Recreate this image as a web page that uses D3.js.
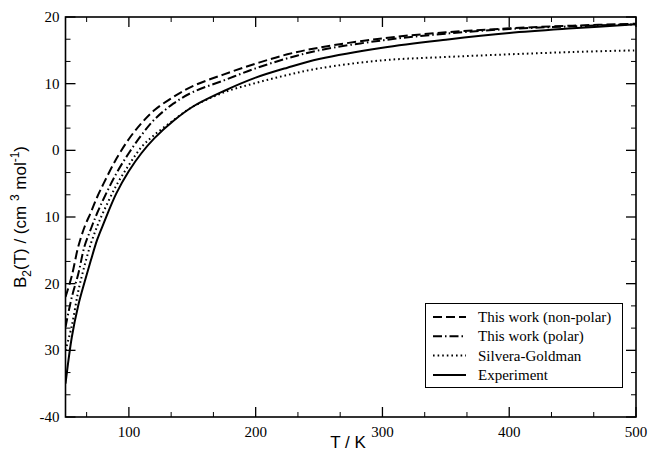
<!DOCTYPE html>
<html>
<head>
<meta charset="utf-8">
<script src="https://cdn.jsdelivr.net/npm/d3@7"></script>
<style>
  html, body { margin: 0; padding: 0; background: #fff; }
  svg { display: block; }
</style>
</head>
<body>
<svg id="chart" width="650" height="453"></svg>
<script>
// Second virial coefficient of hydrogen, B2(T) in cm^3/mol
const temperatures = [50, 55, 60, 65, 70, 75, 80, 90, 100, 110, 120, 135, 150, 175, 200, 225, 250, 300, 350, 400, 450, 500];
const nonPolar     = [-22, -18.8, -14.5, -11.5, -9.3, -7.0, -5.0, -1.3, 1.7, 4.1, 6.0, 8.0, 9.6, 11.4, 13.0, 14.4, 15.4, 16.8, 17.7, 18.3, 18.7, 19.0];
const polar        = [-26.5, -22, -18.6, -14.4, -11.8, -9.4, -7.3, -3.5, -0.4, 2.3, 4.6, 7.0, 8.7, 10.5, 12.3, 13.8, 15.0, 16.5, 17.5, 18.2, 18.6, 18.9];
const silvera      = [-30, -26.3, -21.2, -17.3, -14.0, -11.4, -9.2, -5.3, -2.2, 0.5, 2.3, 4.5, 6.5, 8.7, 10.1, 11.3, 12.3, 13.5, 14.0, 14.4, 14.75, 15.0];
const experiment   = [-35, -28, -23.3, -19.8, -16.5, -13.4, -11.0, -6.5, -3.1, -0.4, 1.8, 4.4, 6.5, 8.9, 10.9, 12.4, 13.7, 15.4, 16.6, 17.6, 18.3, 18.9];

const xTickValues = [100, 200, 300, 400, 500];
const xTickLabels = ["100", "200", "300", "400", "500"];
const yTickValues = [20, 10, 0, -10, -20, -30, -40];
const yTickLabels = ["20", "10", "0", "10", "20", "30", "-40"];

const seriesNames = ["This work (non-polar)", "This work (polar)", "Silvera-Goldman", "Experiment"];
const seriesValues = [nonPolar, polar, silvera, experiment];
const seriesDash = ["9,4", "9,3,1.5,3", "1.6,3", null];

const svg = d3.select("#chart");
const plot = { left: 65.5, right: 636, top: 17, bottom: 417 };

const x = d3.scaleLinear().domain([50, 500]).range([plot.left, plot.right]);
const y = d3.scaleLinear().domain([-40, 20]).range([plot.bottom, plot.top]);

svg.append("defs").append("clipPath").attr("id", "plotClip")
  .append("rect")
  .attr("x", plot.left).attr("y", plot.top)
  .attr("width", plot.right - plot.left).attr("height", plot.bottom - plot.top);

// Curves
const line = d3.line()
  .x(d => x(d[0]))
  .y(d => y(d[1]))
  .curve(d3.curveCatmullRom.alpha(0.5));

const curves = svg.append("g").attr("clip-path", "url(#plotClip)");
seriesValues.forEach((vals, i) => {
  curves.append("path")
    .datum(temperatures.map((t, k) => [t, vals[k]]))
    .attr("d", line)
    .attr("fill", "none")
    .attr("stroke", "#000")
    .attr("stroke-width", 2)
    .attr("stroke-dasharray", seriesDash[i]);
});

// Axes: ticks on all four sides pointing inward
const xMinor = d3.range(50 + 50 / 3, 500, 100 / 3).filter(v => Math.abs(v / 100 - Math.round(v / 100)) > 0.01);
const yMinor = d3.range(-40, 20.001, 10 / 3).filter(v => Math.abs(v / 10 - Math.round(v / 10)) > 0.01);

function inwardX(sel, scale, isTop) {
  const dir = isTop ? 1 : -1;
  const yBase = isTop ? plot.top : plot.bottom;
  sel.selectAll("line.major").data(xTickValues).join("line")
    .attr("x1", d => scale(d)).attr("x2", d => scale(d))
    .attr("y1", yBase).attr("y2", yBase + dir * 10)
    .attr("stroke", "#000").attr("stroke-width", 1.3);
  sel.selectAll("line.minor").data(xMinor).join("line").attr("class", "minor")
    .attr("x1", d => scale(d)).attr("x2", d => scale(d))
    .attr("y1", yBase).attr("y2", yBase + dir * 5)
    .attr("stroke", "#000").attr("stroke-width", 1);
}
function inwardY(sel, scale, isRight) {
  const dir = isRight ? -1 : 1;
  const xBase = isRight ? plot.right : plot.left;
  sel.selectAll("line.major").data(yTickValues).join("line")
    .attr("y1", d => scale(d)).attr("y2", d => scale(d))
    .attr("x1", xBase).attr("x2", xBase + dir * 10)
    .attr("stroke", "#000").attr("stroke-width", 1.3);
  sel.selectAll("line.minor").data(yMinor).join("line").attr("class", "minor")
    .attr("y1", d => scale(d)).attr("y2", d => scale(d))
    .attr("x1", xBase).attr("x2", xBase + dir * 5)
    .attr("stroke", "#000").attr("stroke-width", 1);
}
inwardX(svg.append("g"), x, false);
inwardX(svg.append("g"), x, true);
inwardY(svg.append("g"), y, false);
inwardY(svg.append("g"), y, true);

// Frame
svg.append("rect")
  .attr("x", plot.left).attr("y", plot.top)
  .attr("width", plot.right - plot.left).attr("height", plot.bottom - plot.top)
  .attr("fill", "none").attr("stroke", "#000").attr("stroke-width", 1.6);

// Tick labels
const serif = "'Liberation Serif', 'DejaVu Serif', 'Times New Roman', 'Noto Serif', Times, serif";
svg.append("g").selectAll("text").data(xTickValues).join("text")
  .attr("x", d => x(d)).attr("y", plot.bottom + 20)
  .attr("text-anchor", "middle")
  .style("font-family", serif).attr("font-size", 15)
  .text((d, i) => xTickLabels[i]);
svg.append("g").selectAll("text").data(yTickValues).join("text")
  .attr("x", plot.left - 6).attr("y", d => y(d) + 5)
  .attr("text-anchor", "end")
  .style("font-family", serif).attr("font-size", 15)
  .text((d, i) => yTickLabels[i]);

// Axis titles
const sans = "'Liberation Sans', Arial, sans-serif";
svg.append("text")
  .attr("x", 348).attr("y", 448)
  .attr("text-anchor", "middle")
  .style("font-family", sans).attr("font-size", 17)
  .text("T / K");

const yTitle = svg.append("text")
  .attr("transform", `translate(26,${(plot.top + plot.bottom) / 2}) rotate(-90)`)
  .attr("text-anchor", "middle")
  .style("font-family", sans).attr("font-size", 17);
yTitle.append("tspan").text("B");
yTitle.append("tspan").attr("font-size", 12).attr("dy", 5).text("2");
yTitle.append("tspan").attr("dy", -5).text("(T) / (cm ");
yTitle.append("tspan").attr("font-size", 12).attr("dy", -7).text("3");
yTitle.append("tspan").attr("dy", 7).text(" mol");
yTitle.append("tspan").attr("font-size", 12).attr("dy", -7).text("-1");
yTitle.append("tspan").attr("dy", 7).text(")");

// Legend
const legend = svg.append("g");
legend.append("rect")
  .attr("x", 425.5).attr("y", 303.5).attr("width", 197).attr("height", 84)
  .attr("fill", "#fff").attr("stroke", "#000").attr("stroke-width", 1);
seriesNames.forEach((name, i) => {
  const ly = 317 + i * 19.3;
  legend.append("line")
    .attr("x1", 433).attr("x2", 466).attr("y1", ly).attr("y2", ly)
    .attr("stroke", "#000").attr("stroke-width", 2)
    .attr("stroke-dasharray", seriesDash[i]);
  legend.append("text")
    .attr("x", 478).attr("y", ly + 5)
    .style("font-family", serif).attr("font-size", 15)
    .text(name);
});
</script>
</body>
</html>
